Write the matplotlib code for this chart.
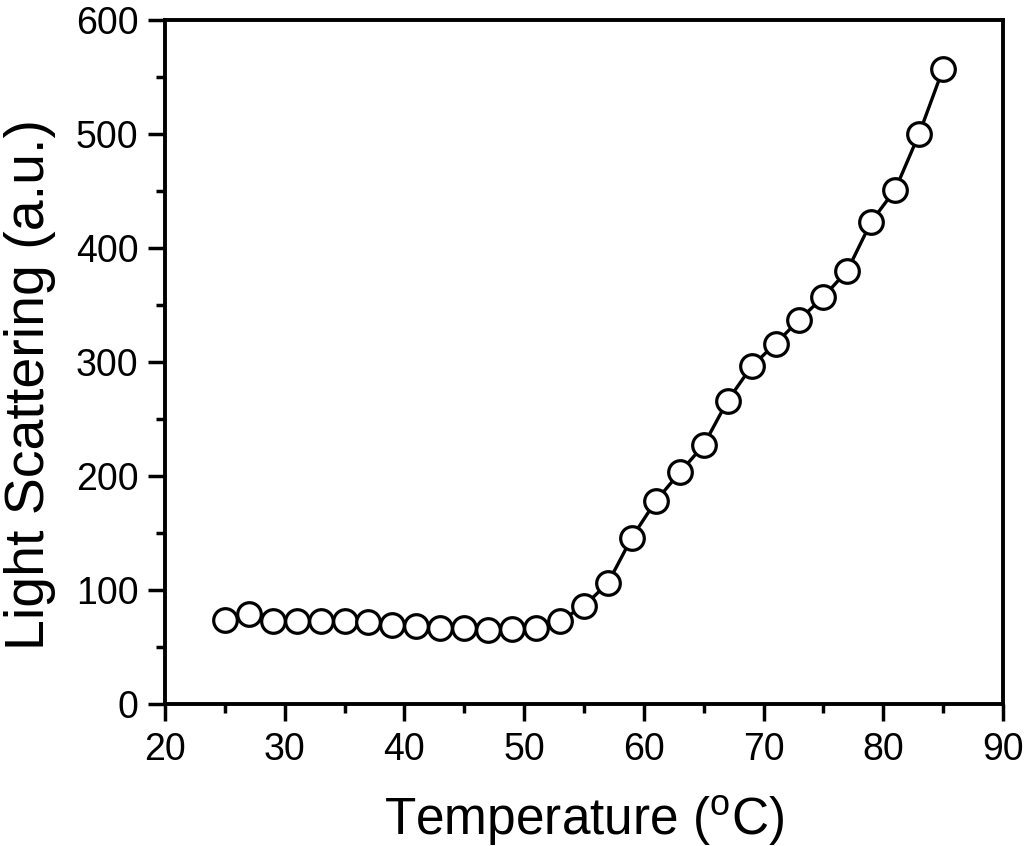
import numpy as np
import matplotlib.pyplot as plt
from matplotlib.ticker import MultipleLocator

plt.rcParams['font.family'] = ['Liberation Sans', 'DejaVu Sans']

temperature = [25, 27, 29, 31, 33, 35, 37, 39, 41, 43, 45, 47, 49, 51, 53, 55,
               57, 59, 61, 63, 65, 67, 69, 71, 73, 75, 77, 79, 81, 83, 85]
scattering = [74, 79, 73, 73, 73, 73, 72, 69, 68, 67, 67, 65, 66, 67, 73, 86,
              106, 146, 178, 203, 227, 266, 296, 316, 337, 357, 380, 423, 451, 500, 557]

fig = plt.figure(figsize=(10.24, 8.46), dpi=100)
ax = fig.add_axes([0.1611, 0.1678, 0.8184, 0.809])

ax.plot(temperature, scattering, color='black', lw=2.4, marker='o', ms=17,
        mfc='white', mec='black', mew=2.3)

ax.set_xlim(20, 90)
ax.set_ylim(0, 600)
ax.xaxis.set_major_locator(MultipleLocator(10))
ax.xaxis.set_minor_locator(MultipleLocator(5))
ax.yaxis.set_major_locator(MultipleLocator(100))
ax.yaxis.set_minor_locator(MultipleLocator(50))

for s in ax.spines.values():
    s.set_linewidth(2.8)
ax.tick_params(which='major', direction='out', length=12, width=2.5, labelsize=27)
ax.tick_params(which='minor', direction='out', length=6.5, width=2.5)
ax.tick_params(axis='x', which='major', pad=8)
ax.tick_params(axis='y', which='major', pad=7)

ax.set_xlabel('Temperature ($\\mathregular{^o}$C)', fontsize=37)
ax.set_ylabel('Light Scattering (a.u.)', fontsize=40)
ax.xaxis.set_label_coords(0.5, -0.130)
ax.yaxis.set_label_coords(-0.130, 0.467)

fig.savefig('out.png', dpi=100)
